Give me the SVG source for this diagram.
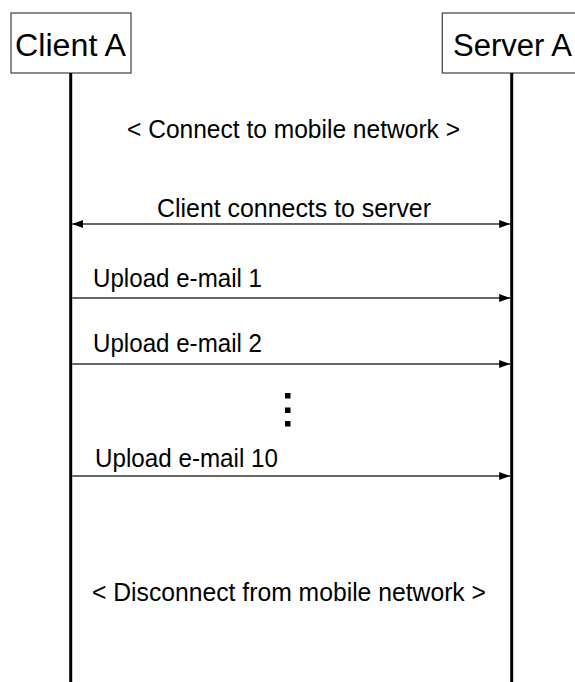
<svg xmlns="http://www.w3.org/2000/svg" width="575" height="682" viewBox="0 0 575 682">
<style>
.box{fill:#fff;stroke:#404040;stroke-width:1.2}
.life{stroke:#000;stroke-width:3}
.head{font-family:"Liberation Sans",Arial,sans-serif;font-size:31px;fill:#000}
.lbl{font-family:"Liberation Sans",Arial,sans-serif;font-size:25px;fill:#000}
.msg{stroke:#333;stroke-width:1.4;fill:none}
</style>
<defs>
<marker id="ah" viewBox="0 0 11 8" refX="11" refY="4" markerWidth="11" markerHeight="8" markerUnits="userSpaceOnUse" orient="auto-start-reverse">
<path d="M0,0 L11,4 L0,8 Z" fill="#000"/>
</marker>
</defs>
<rect width="575" height="682" fill="#fff"/>
<g id="client-a">
<rect class="box" x="11" y="13" width="120" height="60"/>
<text class="head" x="15" y="56" textLength="111" lengthAdjust="spacingAndGlyphs">Client A</text>
<line class="life" x1="70.7" y1="73" x2="70.7" y2="682"/>
</g>
<g id="server-a">
<rect class="box" x="442.3" y="13" width="140" height="60"/>
<text class="head" x="453" y="56" textLength="119" lengthAdjust="spacingAndGlyphs">Server A</text>
<line class="life" x1="511.7" y1="73" x2="511.7" y2="682"/>
</g>
<g id="notes">
<text class="lbl" x="127" y="138" textLength="333" lengthAdjust="spacingAndGlyphs">&lt; Connect to mobile network &gt;</text>
<text class="lbl" x="92" y="601" textLength="394" lengthAdjust="spacingAndGlyphs">&lt; Disconnect from mobile network &gt;</text>
<rect x="285" y="393" width="5.5" height="5.5" fill="#000"/>
<rect x="285" y="407.5" width="5.5" height="5.5" fill="#000"/>
<rect x="285" y="421" width="5.5" height="5.5" fill="#000"/>
</g>
<g id="connectors">
<line class="msg" x1="72.2" y1="224" x2="510.2" y2="224" marker-start="url(#ah)" marker-end="url(#ah)"/>
<text class="lbl" x="157" y="217" textLength="274" lengthAdjust="spacingAndGlyphs">Client connects to server</text>
<line class="msg" x1="72.2" y1="298" x2="510.2" y2="298" marker-end="url(#ah)"/>
<text class="lbl" x="93" y="287" textLength="169" lengthAdjust="spacingAndGlyphs">Upload e-mail 1</text>
<line class="msg" x1="72.2" y1="364" x2="510.2" y2="364" marker-end="url(#ah)"/>
<text class="lbl" x="93" y="352" textLength="169" lengthAdjust="spacingAndGlyphs">Upload e-mail 2</text>
<line class="msg" x1="72.2" y1="476" x2="510.2" y2="476" marker-end="url(#ah)"/>
<text class="lbl" x="95" y="467" textLength="183" lengthAdjust="spacingAndGlyphs">Upload e-mail 10</text>
</g>
</svg>
